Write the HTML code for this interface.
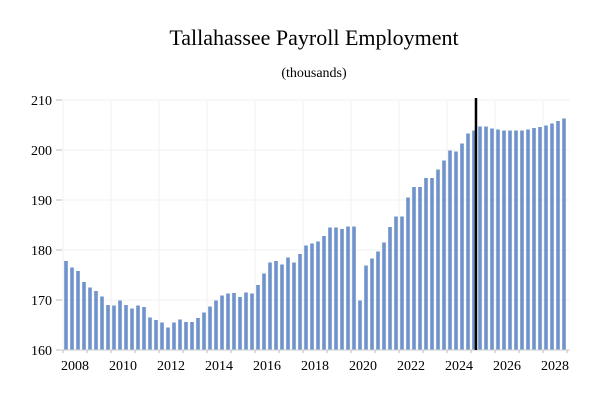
<!DOCTYPE html>
<html><head><meta charset="utf-8"><style>
body{margin:0;background:#fff;}
svg{display:block;font-family:"Liberation Serif",serif;}
</style></head><body>
<svg id="c" width="609" height="401">
<text x="314" y="45" text-anchor="middle" font-size="22">Tallahassee Payroll Employment</text>
<text x="314" y="77" text-anchor="middle" font-size="14">(thousands)</text>
<g id="grid"></g><g id="bars"></g><g id="axes"></g>
</svg>
<script>
const years=[2008,2010,2012,2014,2016,2018,2020,2022,2024,2026,2028];
const yTicks=[160,170,180,190,200,210];
const values=[177.8,176.5,175.8,173.6,172.5,171.8,170.7,169.0,168.9,169.9,169.0,168.3,168.9,168.6,166.5,166.0,165.5,164.5,165.5,166.1,165.6,165.6,166.4,167.5,168.7,169.9,170.9,171.3,171.4,170.6,171.5,171.3,173.0,175.3,177.5,177.8,177.1,178.5,177.5,179.2,180.9,181.3,181.7,182.8,184.5,184.5,184.2,184.7,184.7,169.9,176.9,178.3,179.7,181.5,184.6,186.7,186.7,190.5,192.6,192.6,194.4,194.4,196.1,197.9,199.9,199.7,201.3,203.3,203.9,204.7,204.7,204.3,204.1,203.9,203.9,203.9,203.9,204.1,204.4,204.6,204.9,205.3,205.8,206.3];
const forecastStart=68.33;
const NS="http://www.w3.org/2000/svg";
const y=v=>350-(v-160)*5;
const xYear=yr=>63+(yr-2008)*24;
const xBar=i=>66+6*i;
function mk(t,a,p){const e=document.createElementNS(NS,t);for(const k in a)e.setAttribute(k,a[k]);p.appendChild(e);return e;}
const g=document.getElementById('grid'),b=document.getElementById('bars'),ax=document.getElementById('axes');
yTicks.forEach(v=>{
 const l=mk('line',{x1:60,x2:570,y1:y(v),y2:y(v),stroke:'#f0f0f0','stroke-width':1},g);
 
 
 const tk=mk('line',{x1:56,x2:62,y1:y(v),y2:y(v),stroke:'#bbb'},ax);
 
 
 const t=mk('text',{x:52,y:y(v)+5,'text-anchor':'end','font-size':14},ax);
 t.textContent=v;
 
 
});
years.forEach(yr=>{
 const l=mk('line',{x1:xYear(yr),x2:xYear(yr),y1:100,y2:350,stroke:'#f0f0f0'},g);
 
 
 const t=mk('text',{x:xYear(yr)+12,y:370,'text-anchor':'middle','font-size':14},ax);
 t.textContent=yr;
 
 
});
for(let yr=2008;yr<=2029;yr++){
 const tk=mk('line',{x1:xYear(yr),x2:xYear(yr),y1:350,y2:353,stroke:'#bbb'},ax);
 
 
}
values.forEach((v,i)=>{
 const r=mk('rect',{x:xBar(i)-1.8,y:y(v),width:3.6,height:350-y(v),fill:'#7093cc'},b);
 
 
});
const bl=mk('line',{x1:60,x2:570,y1:350,y2:350,stroke:'#ccc'},ax);


const fl=mk('line',{x1:xBar(forecastStart),x2:xBar(forecastStart),y1:98,y2:350,stroke:'#000','stroke-width':2.5},ax);


</script>
</body></html>
